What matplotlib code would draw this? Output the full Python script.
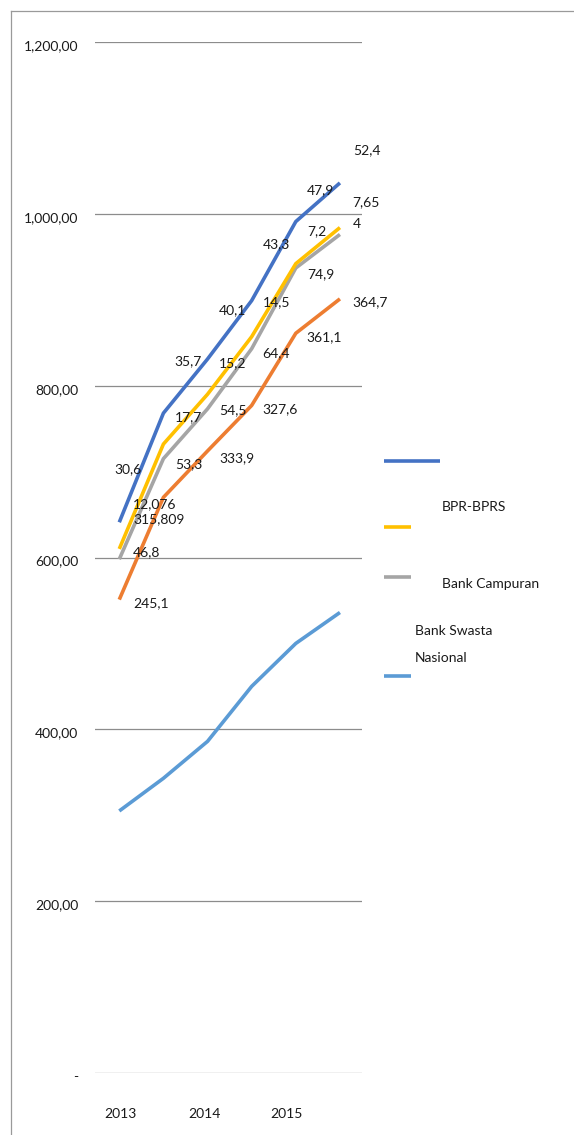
import matplotlib
matplotlib.use("Agg")
import matplotlib.pyplot as plt
from matplotlib.lines import Line2D
from matplotlib.transforms import ScaledTranslation, Bbox, TransformedBbox

plt.rcParams['font.family'] = ['Lato', 'DejaVu Sans']

# data (six points per series, three year labels on the axis)
points = [0, 1, 2, 3, 4, 5]
year_labels = ['2013', '2014', '2015']
year_ticks = [0.02, 1.92, 3.8]

blue = [641, 768, 831, 899, 991, 1036]
orange = [551, 670, 724, 777, 861, 901]
gray = [598, 715, 773, 843, 937, 976]
yellow = [610, 732, 790, 857, 942, 984]
light_blue = [305, 343, 386, 450, 500, 536]

y_ticks = [0, 200, 400, 600, 800, 1000, 1200]
y_tick_labels = ['-', '200,00', '400,00', '600,00', '800,00', '1,000,00', '1,200,00']

# data labels as they sit in the picture
blue_labels = ['30,6', '35,7', '40,1', '43,3', '47,9', '52,4']
yellow_labels = ['12,076', '17,7', '15,2', '14,5', '7,2', '7,65']
gray_labels = ['46,8', '53,3', '54,5', '64,4', '74,9', '4']
orange_labels = ['245,1', '333,9', '327,6', '361,1', '364,7']

# label anchor positions (x index, y value), left/center aligned
blue_pos = [(-0.12, 703), (1.24, 829), (2.26, 888), (3.25, 965), (4.25, 1028), (5.29, 1074)]
yellow_pos = [(0.31, 662), (1.26, 763), (2.26, 826), (3.25, 897), (4.25, 980), (5.29, 1014)]
gray_pos = [(0.31, 606), (1.26, 709), (2.26, 771), (3.25, 838), (4.25, 930), (5.29, 988)]
orange_pos = [(0.31, 547), (2.26, 716), (3.25, 773), (4.25, 856), (5.29, 897)]

C_BLUE = '#4472C4'
C_ORANGE = '#ED7D31'
C_GRAY = '#A5A5A5'
C_YELLOW = '#FFC000'
C_LBLUE = '#5B9BD5'
FS = 10
LW = 2.6

W, H = 574, 1135
fig = plt.figure(figsize=(W / 100, H / 100), dpi=100)

# outer chart frame (left and top edges only visible)
fig.add_artist(Line2D([11 / W, 11 / W], [0, 1 - 11 / H], transform=fig.transFigure,
                      color='#9a9a9a', lw=0.9))
fig.add_artist(Line2D([11 / W, 1], [1 - 11 / H, 1 - 11 / H], transform=fig.transFigure,
                      color='#9a9a9a', lw=0.9))

ax = fig.add_axes([95 / W, (H - 1073) / H, 267 / W, (1073 - 42) / H])
ax.set_xlim(-0.55, 5.5)
ax.set_ylim(0, 1200)

ax.plot(points, blue, color=C_BLUE, lw=LW, solid_capstyle='butt')
ax.plot(points, orange, color=C_ORANGE, lw=LW, solid_capstyle='butt')
ax.plot(points, gray, color=C_GRAY, lw=LW, solid_capstyle='butt')
ax.plot(points, yellow, color=C_YELLOW, lw=LW, solid_capstyle='butt')
ax.plot(points, light_blue, color=C_LBLUE, lw=LW, solid_capstyle='butt')

for labels, pos in [(blue_labels, blue_pos), (yellow_labels, yellow_pos),
                    (gray_labels, gray_pos), (orange_labels, orange_pos)]:
    for txt, (x, y) in zip(labels, pos):
        ax.text(x, y, txt, fontsize=FS, ha='left', va='center', color='#1a1a1a', zorder=5)

# partly hidden label under the 12,076 label (bottom half cut off)
t = ax.text(0.31, 645, '315,809', fontsize=FS, ha='left', va='center', color='#1a1a1a', zorder=5)
t.set_clip_box(TransformedBbox(Bbox([[-1, 643], [7, 1300]]), ax.transData))

for s in ax.spines.values():
    s.set_visible(False)
ax.set_yticks(y_ticks)
ax.set_yticklabels(y_tick_labels)
ax.set_xticks(year_ticks)
ax.set_xticklabels(year_labels)
ax.tick_params(axis='both', length=0, labelsize=FS, colors='#1a1a1a')
ax.tick_params(axis='y', pad=12)
ax.tick_params(axis='x', pad=25)
ax.grid(axis='y', color='#8c8c8c', lw=0.9)
ax.set_axisbelow(True)
off = ScaledTranslation(0, -3 / 100, fig.dpi_scale_trans)
for lab in ax.get_yticklabels():
    lab.set_transform(lab.get_transform() + off)

# hand-placed legend
def leg_line(x0, x1, y, color):
    fig.add_artist(Line2D([x0 / W, x1 / W], [1 - y / H, 1 - y / H], transform=fig.transFigure,
                          color=color, lw=LW, solid_capstyle='butt'))

def leg_text(x, y, s):
    fig.text(x / W, 1 - y / H, s, fontsize=FS, ha='left', va='center', color='#1a1a1a')

leg_line(384, 440, 461, C_BLUE)
leg_text(442, 507, 'BPR-BPRS')
leg_line(384, 411, 527, C_YELLOW)
leg_line(384, 411, 577, C_GRAY)
leg_text(442, 584, 'Bank Campuran')
leg_text(415, 631, 'Bank Swasta')
leg_text(415, 658, 'Nasional')
leg_line(384, 411, 676, C_LBLUE)

fig.savefig('out.png', dpi=100)
